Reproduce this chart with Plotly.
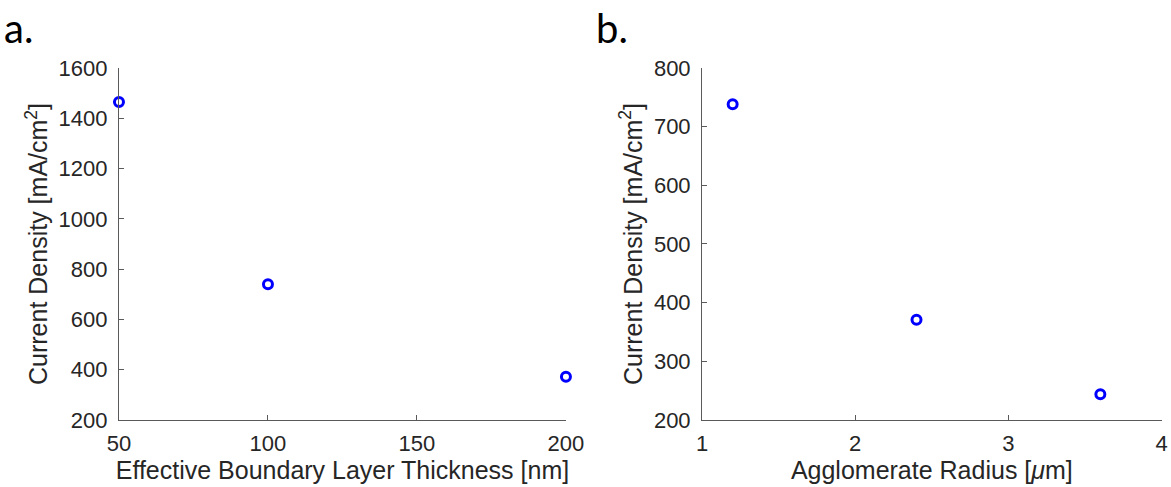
import plotly.graph_objects as go

# Panel a data
thickness_nm = [50, 100, 200]
current_a = [1465, 740, 372]

# Panel b data
radius_um = [1.2, 2.4, 3.6]
current_b = [738, 371, 244]

a_xticks = [50, 100, 150, 200]
a_yticks = [200, 400, 600, 800, 1000, 1200, 1400, 1600]
b_xticks = [1, 2, 3, 4]
b_yticks = [200, 300, 400, 500, 600, 700, 800]

AX = "#5a5a5a"
TXT = "#262626"
FONT = "Liberation Sans, Arial, sans-serif"

fig = go.Figure()
marker = dict(symbol="circle-open", size=9, color="#0000ff", line=dict(width=3, color="#0000ff"))
fig.add_trace(go.Scatter(x=thickness_nm, y=current_a, mode="markers", marker=marker,
                         xaxis="x", yaxis="y", showlegend=False, cliponaxis=False))
fig.add_trace(go.Scatter(x=radius_um, y=current_b, mode="markers", marker=marker,
                         xaxis="x2", yaxis="y2", showlegend=False, cliponaxis=False))

common = dict(showgrid=False, zeroline=False, showline=True, linecolor=AX, linewidth=1,
              ticks="inside", ticklen=5, tickcolor=AX, tickwidth=1, automargin=False,
              ticklabeloverflow="allow",
              tickfont=dict(family=FONT, size=22, color=TXT), mirror=False)

TF = dict(family=FONT, size=25, color=TXT)
ydom = [0.1376, 0.8604]
fig.update_layout(
    width=1171, height=487,
    margin=dict(l=0, r=0, t=0, b=0),
    paper_bgcolor="white", plot_bgcolor="white",
    xaxis=dict(domain=[0.1016, 0.4833], range=[50, 200], tickvals=a_xticks, ticklabelstandoff=4,
               title=dict(text="Effective Boundary Layer Thickness [nm]", standoff=3, font=TF),
               anchor="y", **common),
    yaxis=dict(domain=ydom, range=[200, 1600], tickvals=a_yticks, ticklabelstandoff=6,
               title=dict(text="Current Density [mA/cm<sup>2</sup>]", standoff=3, font=TF),
               anchor="x", **common),
    xaxis2=dict(domain=[0.5995, 0.992], range=[1, 4], tickvals=b_xticks, ticklabelstandoff=4,
                title=dict(text="Agglomerate Radius [<i>μ</i>m]", standoff=3, font=TF),
                anchor="y2", **common),
    yaxis2=dict(domain=ydom, range=[200, 800], tickvals=b_yticks, ticklabelstandoff=6,
                title=dict(text="Current Density [mA/cm<sup>2</sup>]", standoff=4, font=TF),
                anchor="x2", **common),
    annotations=[
        dict(text="a.", x=0.002, y=0.995, xref="paper", yref="paper", xanchor="left", yanchor="top",
             showarrow=False, font=dict(family="Lato, Open Sans, sans-serif", size=40, color="black")),
        dict(text="b.", x=0.507, y=0.995, xref="paper", yref="paper", xanchor="left", yanchor="top",
             showarrow=False, font=dict(family="Lato, Open Sans, sans-serif", size=40, color="black")),
    ],
)

fig.write_html("out.html", config={"displayModeBar": False},
               post_script="document.body.style.margin='0';document.body.style.overflow='hidden';")
